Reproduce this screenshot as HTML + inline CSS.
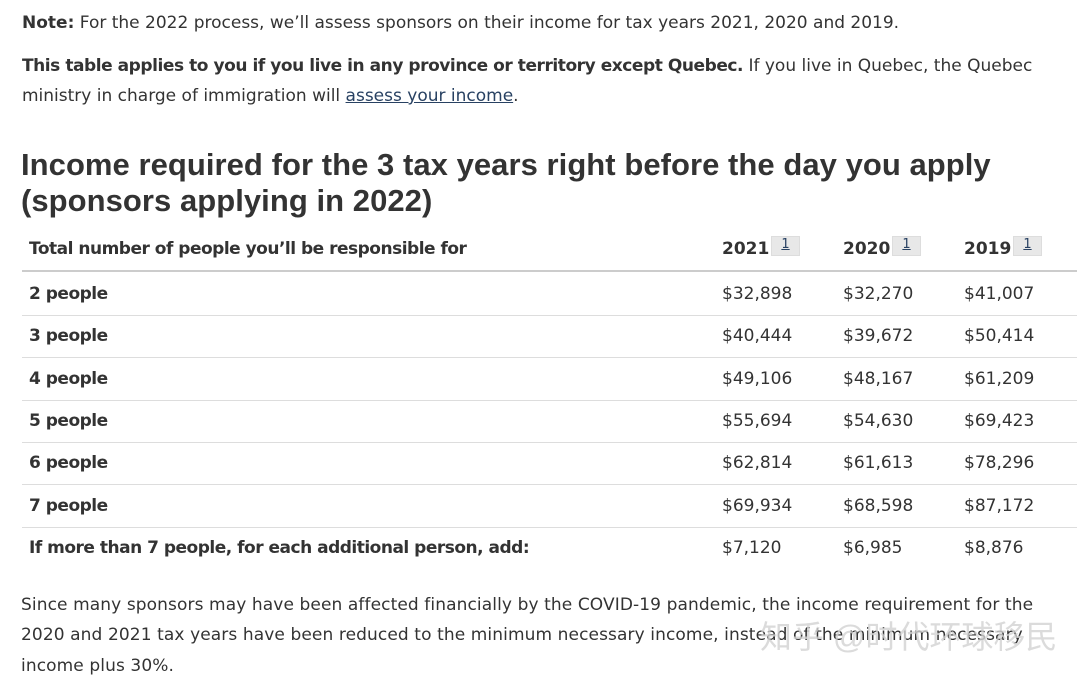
<!DOCTYPE html>
<html><head><meta charset="utf-8"><style>
body{margin:0;width:1080px;height:684px;background:#fff;position:relative;overflow:hidden;font-family:"DejaVu Sans","Liberation Sans",sans-serif;color:#333}
.t{position:absolute;white-space:nowrap;font-size:17px;line-height:20px}
.b{font-weight:bold}
.h{position:absolute;left:21px;font-family:"Liberation Sans",sans-serif;font-weight:bold;font-size:31px;line-height:36px;color:#333;white-space:nowrap;letter-spacing:0.05px}
.line{position:absolute;left:22px;width:1055px;height:1px;background:#ddd}
.fn{position:absolute;width:27px;height:18px;background:#e8e8e8;border:1px solid #ddd;font-size:13px;line-height:16px;text-align:center;color:#284162;text-decoration:underline}
.c{position:absolute;font-size:17px;white-space:nowrap}
a{color:#284162}
</style></head><body>
<div class="t" style="left:22px;top:13px"><b>Note:</b> For the 2022 process, we’ll assess sponsors on their income for tax years 2021, 2020 and 2019.</div>
<div class="t" style="left:22px;top:56px"><b style="letter-spacing:-0.45px">This table applies to you if you live in any province or territory except Quebec.</b> If you live in Quebec, the Quebec</div>
<div class="t" style="left:22px;top:86px">ministry in charge of immigration will <a href="#">assess your income</a>.</div>
<div class="h" style="top:147px">Income required for the 3 tax years right before the day you apply</div>
<div class="h" style="top:183px">(sponsors applying in 2022)</div>
<div>
<div class="c b" style="left:29px;top:239px;letter-spacing:-0.5px">Total number of people you’ll be responsible for</div>
<div class="c b" style="left:722px;top:239px">2021</div>
<div class="fn" style="left:771px;top:236px">1</div>
<div class="c b" style="left:843px;top:239px">2020</div>
<div class="fn" style="left:892px;top:236px">1</div>
<div class="c b" style="left:964px;top:239px">2019</div>
<div class="fn" style="left:1013px;top:236px">1</div>
<div class="line" style="top:270px;height:2px;background:#ccc"></div>
<div id="rows"></div>
</div>
<div class="t" style="left:21px;top:595px;letter-spacing:0.1px">Since many sponsors may have been affected financially by the COVID-19 pandemic, the income requirement for the</div>
<div class="t" style="left:21px;top:625px;letter-spacing:0.1px">2020 and 2021 tax years have been reduced to the minimum necessary income, instead of the minimum necessary</div>
<div class="t" style="left:21px;top:656px;letter-spacing:0.1px">income plus 30%.</div>
<div class="t" style="left:760px;top:618px;font-size:32px;line-height:38px;color:rgba(210,210,210,0.8);font-family:'Liberation Sans','Noto Sans CJK SC',sans-serif">知乎 @时代环球移民</div>
<script>
const labels=["2 people","3 people","4 people","5 people","6 people","7 people","If more than 7 people, for each additional person, add:"];
const y2021=["$32,898","$40,444","$49,106","$55,694","$62,814","$69,934","$7,120"];
const y2020=["$32,270","$39,672","$48,167","$54,630","$61,613","$68,598","$6,985"];
const y2019=["$41,007","$50,414","$61,209","$69,423","$78,296","$87,172","$8,876"];
const rows=document.getElementById('rows');
labels.forEach((l,i)=>{
 const top=284+i*42.3;
 const mk=(txt,x,name,bold)=>{const d=document.createElement('div');d.className='c'+(bold?' b':'');d.style.left=x+'px';d.style.top=top+'px';d.textContent=txt;
 
 
 if(bold)d.style.letterSpacing='-0.5px';rows.appendChild(d);};
 mk(l,29,'row-label',true);mk(y2021[i],722,'cell-2021');mk(y2020[i],843,'cell-2020');mk(y2019[i],964,'cell-2019');
 if(i<labels.length-1){const ln=document.createElement('div');ln.className='line';ln.style.top=(top+31)+'px';
 
 
 rows.appendChild(ln);}
});
</script>
</body></html>
